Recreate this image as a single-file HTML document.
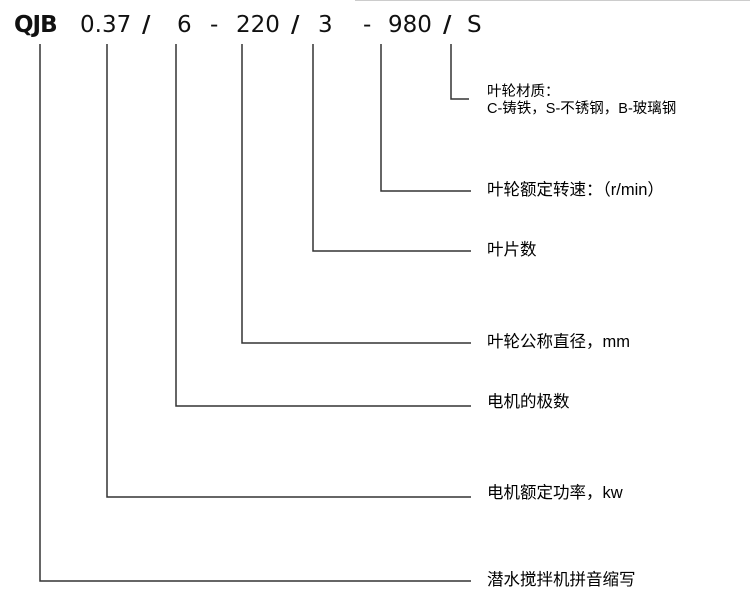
<!DOCTYPE html>
<html><head><meta charset="utf-8"><style>
html,body{margin:0;padding:0;background:#fff;}
body{width:750px;height:614px;position:relative;overflow:hidden;font-family:"Liberation Sans","Noto Sans CJK SC",sans-serif;color:#111;}
.h{position:absolute;top:10px;font-size:23px;line-height:30px;font-family:"DejaVu Sans","Liberation Sans",sans-serif;}
.t{position:absolute;left:487px;font-size:16.5px;line-height:18px;white-space:nowrap;color:#000;}
</style></head><body>
<div style="position:absolute;left:355px;top:0;width:395px;height:1px;background:#ccc"></div>
<div class="h" style="left:14px;font-weight:bold;letter-spacing:-1px">QJB</div>
<div class="h" style="left:80px">0.37</div>
<div class="h" style="left:142px;font-weight:bold">/</div>
<div class="h" style="left:177px">6</div>
<div class="h" style="left:210px">-</div>
<div class="h" style="left:236px">220</div>
<div class="h" style="left:291px;font-weight:bold">/</div>
<div class="h" style="left:318px">3</div>
<div class="h" style="left:363px">-</div>
<div class="h" style="left:388px">980</div>
<div class="h" style="left:443px;font-weight:bold">/</div>
<div class="h" style="left:467px">S</div>
<svg width="750" height="614" style="position:absolute;left:0;top:0" fill="none" stroke="#333" stroke-width="1.5">
<polyline points="40,44 40,581 471,581"/>
<polyline points="107,44 107,497 471,497"/>
<polyline points="176,44 176,406 471,406"/>
<polyline points="242,44 242,343 471,343"/>
<polyline points="313,44 313,251 471,251"/>
<polyline points="381,44 381,191 471,191"/>
<polyline points="451,44 451,99 469,99"/>
</svg>
<div class="t" style="top:84px;font-size:14.5px;line-height:17px">叶轮材质：<br>C-铸铁，S-不锈钢，B-玻璃钢</div>
<div class="t" style="top:181px">叶轮额定转速：（r/min）</div>
<div class="t" style="top:241px">叶片数</div>
<div class="t" style="top:333px">叶轮公称直径，mm</div>
<div class="t" style="top:393px">电机的极数</div>
<div class="t" style="top:484px">电机额定功率，kw</div>
<div class="t" style="top:571px">潜水搅拌机拼音缩写</div>
</body></html>
